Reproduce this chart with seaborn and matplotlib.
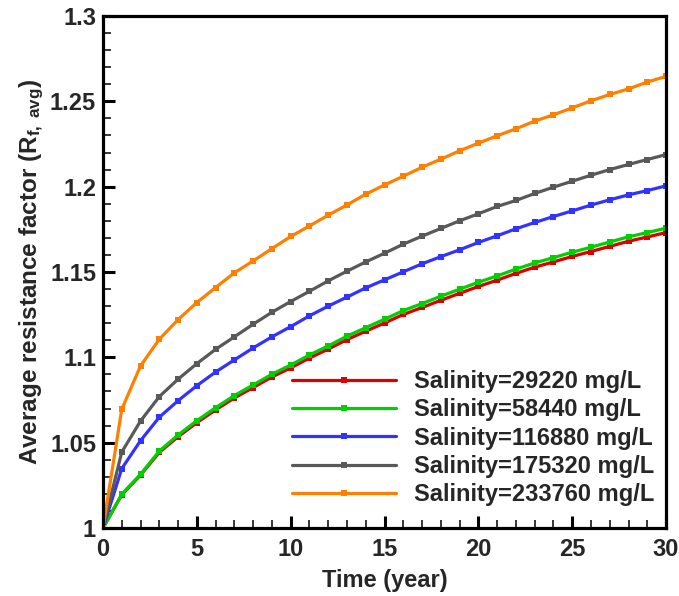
import numpy as np
import pandas as pd
import seaborn as sns
import matplotlib
matplotlib.use("Agg")
import matplotlib.pyplot as plt
from matplotlib.ticker import MultipleLocator, FuncFormatter

# ---- data ----
years = list(range(0, 31))
labels = ["Salinity=29220 mg/L", "Salinity=58440 mg/L", "Salinity=116880 mg/L",
          "Salinity=175320 mg/L", "Salinity=233760 mg/L"]
colors = ["#dd0000", "#00d000", "#3333ff", "#595959", "#ff8000"]

s29220 = [1.0, 1.0195, 1.0310, 1.0443, 1.0535, 1.0617, 1.0692, 1.0762, 1.0823, 1.0885,
          1.0938, 1.0996, 1.1048, 1.1104, 1.1153, 1.1201, 1.1251, 1.1292, 1.1334, 1.1375,
          1.1415, 1.1452, 1.1492, 1.1528, 1.1559, 1.1591, 1.1620, 1.1650, 1.1680, 1.1705, 1.1731]
s58440 = [1.0, 1.0198, 1.0315, 1.0451, 1.0545, 1.0629, 1.0705, 1.0776, 1.0838, 1.0901,
          1.0955, 1.1014, 1.1067, 1.1124, 1.1174, 1.1223, 1.1274, 1.1315, 1.1358, 1.1399,
          1.1440, 1.1477, 1.1517, 1.1553, 1.1584, 1.1616, 1.1645, 1.1676, 1.1706, 1.1731, 1.1757]
s116880 = [1.0, 1.0348, 1.0512, 1.0649, 1.0746, 1.0834, 1.0914, 1.0985, 1.1055, 1.1120,
           1.1180, 1.1243, 1.1300, 1.1353, 1.1407, 1.1454, 1.1501, 1.1548, 1.1590, 1.1630,
           1.1673, 1.1712, 1.1753, 1.1790, 1.1825, 1.1858, 1.1892, 1.1923, 1.1952, 1.1977, 1.2005]
s175320 = [1.0, 1.0445, 1.0627, 1.0770, 1.0872, 1.0963, 1.1047, 1.1120, 1.1194, 1.1264,
           1.1327, 1.1387, 1.1448, 1.1505, 1.1559, 1.1610, 1.1663, 1.1710, 1.1755, 1.1800,
           1.1841, 1.1884, 1.1919, 1.1960, 1.1997, 1.2032, 1.2067, 1.2100, 1.2130, 1.2159, 1.2188]
s233760 = [1.0, 1.0696, 1.0950, 1.1106, 1.1221, 1.1321, 1.1409, 1.1495, 1.1565, 1.1637,
           1.1708, 1.1770, 1.1833, 1.1893, 1.1956, 1.2010, 1.2061, 1.2114, 1.2161, 1.2210,
           1.2255, 1.2298, 1.2339, 1.2384, 1.2421, 1.2462, 1.2503, 1.2540, 1.2573, 1.2613, 1.2646]

series = [s29220, s58440, s116880, s175320, s233760]

df = pd.concat([pd.DataFrame({"Time": years, "R": vals, "Salinity": lab})
                for lab, vals in zip(labels, series)], ignore_index=True)

# ---- style ----
sns.set_style("ticks")
plt.rcParams["font.family"] = ["Liberation Sans", "DejaVu Sans"]
plt.rcParams["font.weight"] = "bold"
plt.rcParams["mathtext.fontset"] = "custom"
plt.rcParams["mathtext.rm"] = "Liberation Sans:bold"
plt.rcParams["mathtext.it"] = "Liberation Sans:bold"
plt.rcParams["mathtext.bf"] = "Liberation Sans:bold"

fig = plt.figure(figsize=(6.79, 5.96), dpi=100)
ax = fig.add_axes([0.1517, 0.1141, 0.8293, 0.8591])

sns.lineplot(data=df, x="Time", y="R", hue="Salinity", hue_order=labels,
             palette=colors, marker="s", markersize=4, markeredgewidth=0,
             linewidth=2.3, ax=ax, legend=True)

ax.set_xlim(0, 30)
ax.set_ylim(1.0, 1.3)
ax.xaxis.set_major_locator(MultipleLocator(5))
ax.xaxis.set_minor_locator(MultipleLocator(1))
ax.yaxis.set_major_locator(MultipleLocator(0.05))
ax.yaxis.set_minor_locator(MultipleLocator(0.01))
ax.yaxis.set_major_formatter(FuncFormatter(lambda v, p: f"{v:.2f}".rstrip("0").rstrip(".")))

ax.tick_params(which="both", direction="in", top=False, right=False, color="black")
ax.tick_params(which="major", length=8.5, width=2.2, labelsize=17)
ax.tick_params(axis="x", which="major", pad=7)
ax.tick_params(axis="y", which="major", pad=5)
ax.tick_params(which="minor", length=5.5, width=1.1)
for lab in ax.get_xticklabels() + ax.get_yticklabels():
    lab.set_fontweight("bold")
for sp in ax.spines.values():
    sp.set_linewidth(2.3)
    sp.set_color("black")

ax.set_xlabel("Time (year)", fontsize=17, fontweight="bold", labelpad=6)
ax.set_ylabel(r"Average resistance factor (R$_{\mathrm{f,\ avg}}$)", fontsize=17.5,
              fontweight="bold", labelpad=3)

handles, hl = ax.get_legend_handles_labels()
ax.legend(handles, hl, loc="upper left", bbox_to_anchor=(0.336, 0.308),
          frameon=False, handlelength=4.4, handletextpad=0.75,
          labelspacing=0.22, borderpad=0, borderaxespad=0,
          prop={"weight": "bold", "size": 17})

fig.savefig("out.png", dpi=100)
